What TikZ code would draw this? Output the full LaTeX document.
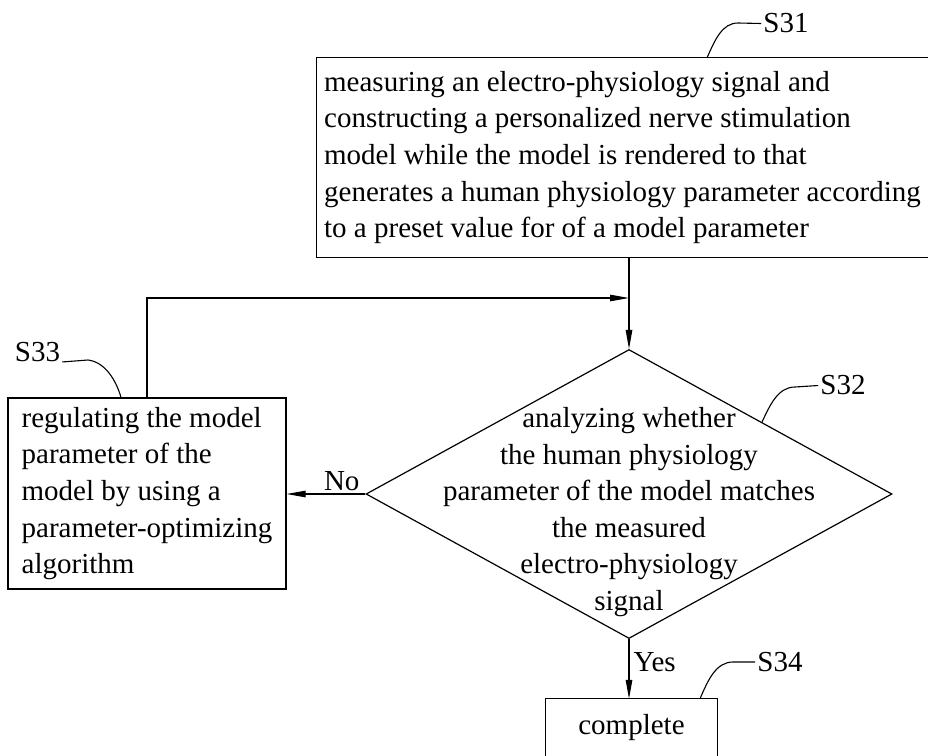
\documentclass[tikz,border=0pt]{standalone}
\usepackage{fontspec}
\setmainfont{Liberation Serif}
\usetikzlibrary{arrows.meta,shapes.geometric}
\begin{document}
\begin{tikzpicture}[x=1pt,y=-1pt,
  every node/.style={font=\fontsize{29}{36.6}\selectfont},
  box/.style={rectangle, inner sep=0pt, align=left},
  dia/.style={diamond, draw, line width=1.2pt, inner sep=0pt},
  lbl/.style={inner sep=2pt},
  arr/.style={line width=1.1pt, -{Triangle[length=19pt,width=6.5pt]}},
  edge/.style={line width=1.2pt},
  leader/.style={line width=1.1pt}]
\useasboundingbox (0,0) rectangle (928,755);
\fill[white] (0,0) rectangle (928,755);

% S31 box (open at right, runs off the page)
\node[box, minimum width=611pt, minimum height=199pt] (s31) at (622.5,157.5)
  {measuring an electro-physiology signal and\\
   constructing a personalized nerve stimulation\\
   model while the model is rendered to that\\
   generates a human physiology parameter according\\
   to a preset value for of a model parameter};
\draw[edge] (s31.north east) -- (s31.north west) -- (s31.south west) -- (s31.south east);

% S32 decision
\node[dia, minimum width=526pt, minimum height=289pt] (d) at (629,494) {};
\node[align=center, inner sep=0pt] (dtext) at (629,512)
  {analyzing whether\\
   the human physiology\\
   parameter of the model matches\\
   the measured\\
   electro-physiology\\
   signal};

% S33 box
\node[box, draw, line width=1.2pt, minimum width=278pt, minimum height=191pt] (s33) at (147,493.5)
  {regulating the model\\
   parameter of the\\
   model by using a\\
   parameter-optimizing\\
   algorithm};

% S34 box (open at bottom, runs off the page)
\node[box, minimum width=171pt, minimum height=57pt] (s34) at (631.5,727.5) {complete};
\draw[edge] (s34.south west) -- (s34.north west) -- (s34.north east) -- (s34.south east);

% step labels
\node[lbl] (l31) at (786,23.5) {S31};
\node[lbl] (l32) at (843,385.5) {S32};
\node[lbl] (l33) at (37.5,352.5) {S33};
\node[lbl] (l34) at (780,662) {S34};

% connectors
\coordinate (j) at (629,298);
\draw[arr] (s31.south -| d.north) -- (d.north);
\draw[arr] (s33.north) |- (j);
\draw[arr] (d.west) -- (s33.east |- d.west) node[pos=0.3, above=1pt, inner sep=2pt] (no) {No};
\draw[arr] (d.south) -- (d.south |- s34.north) node[pos=0.38, right=2pt, inner sep=2pt] (yes) {Yes};

% leader lines
\draw[leader] (s31.north -| 707,0) .. controls (715,40) and (722,23) .. (738,23) -- (l31.west);
\draw[leader] (762,422) .. controls (770,405) and (778,387) .. (795,387) -- (l32.west);
\draw[leader] (l33.base east) -- (88,360) .. controls (105,362) and (116,380) .. (s33.north -| 121,0);
\draw[leader] (s34.north -| 700,0) .. controls (708,680) and (716,662) .. (733,662) -- (l34.west);
\end{tikzpicture}
\end{document}
